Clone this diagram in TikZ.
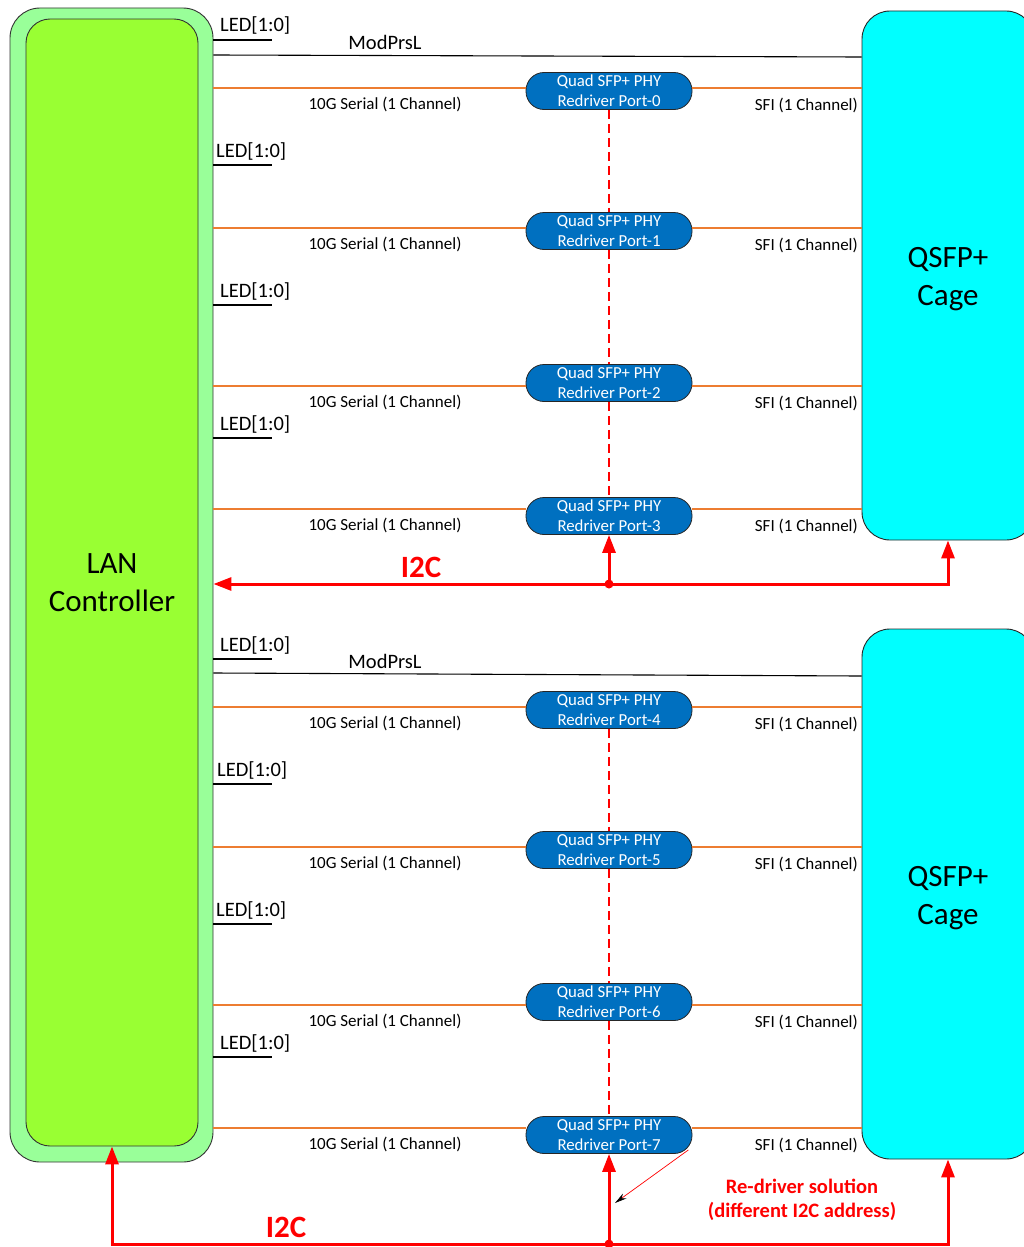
\documentclass[tikz,border=0pt]{standalone}
\usepackage{fontspec}
\setmainfont{Carlito}
\usetikzlibrary{arrows.meta,calc}
\definecolor{lanouter}{HTML}{99FF99}
\definecolor{laninner}{HTML}{99FF33}
\definecolor{cagecol}{HTML}{00FFFF}
\definecolor{rdcol}{HTML}{0070C0}
\definecolor{serialor}{HTML}{ED7D31}
\definecolor{i2cred}{HTML}{FF0000}
\begin{document}
\begin{tikzpicture}[x=1pt,y=-1pt,
  lanbox/.style={draw=black!80, line width=0.9pt},
  cagebox/.style={draw=black!85, line width=0.9pt, fill=cagecol, rounded corners=28pt,
    minimum width=172pt, inner sep=0pt},
  cagetext/.style={align=center, inner sep=0pt, font=\fontsize{31}{38}\selectfont},
  redrv/.style={draw=black!85, line width=0.8pt, fill=rdcol, rounded corners=18pt,
    minimum width=166pt, minimum height=37pt, inner sep=0pt, align=center, text=white,
    font=\fontsize{16.8}{20}\selectfont},
  serial/.style={draw=serialor, line width=2.6pt},
  sig/.style={draw=black, line width=1.1pt},
  i2c/.style={draw=i2cred, line width=3pt},
  tipA/.style={-{Triangle[length=18pt,width=13pt]}},
  dashline/.style={draw=i2cred, line width=1.8pt, dash pattern=on 9pt off 5pt},
  lbl/.style={inner sep=0pt, font=\fontsize{17}{20}\selectfont},
  biglbl/.style={inner sep=0pt, font=\fontsize{20.5}{24}\selectfont},
  i2clbl/.style={inner sep=0pt, text=i2cred, font=\fontsize{31}{36}\selectfont\bfseries}
]
\useasboundingbox (0,0) rectangle (1023,1247);

% LAN controller
\node[lanbox, fill=lanouter, rounded corners=30pt, minimum width=203pt, minimum height=1154pt, inner sep=0pt] (lanout) at (111.5,585) {};
\node[lanbox, fill=laninner, rounded corners=24pt, minimum width=172pt, minimum height=1127pt, inner sep=0pt,
  align=center, font=\fontsize{31}{38}\selectfont] (lanin) at (112,582.5) {LAN\\Controller};

% QSFP+ cages
\node[cagebox, minimum height=529pt] (cageA) at (948,275.5) {};
\node[cagetext] (cageAtext) at ([yshift=-4pt]cageA.center) {QSFP+\\Cage};
\node[cagebox, minimum height=530pt] (cageB) at (948,894) {};
\node[cagetext] (cageBtext) at ([yshift=-4pt]cageB.center) {QSFP+\\Cage};

% Redrivers
\foreach \i/\by in {0/91,1/231,2/383,3/516,4/710,5/850,6/1002,7/1135}{
  \node[redrv] (r\i) at (609,\by) {Quad SFP+ PHY\\Redriver Port-\i};
}
% serial links and labels
\foreach \i/\ly/\cg in {0/88/cageA,1/228/cageA,2/386/cageA,3/509/cageA,
                        4/707/cageB,5/847/cageB,6/1005/cageB,7/1128/cageB}{
  \draw[serial] (lanout.east |- 0,\ly) -- (r\i.west |- 0,\ly);
  \draw[serial] (r\i.east |- 0,\ly) -- (\cg.west |- 0,\ly);
  \node[lbl] at (385,\ly+16) {10G Serial (1 Channel)};
  \node[lbl, anchor=east] at (858,\ly+17) {SFI (1 Channel)};
}

% LED lines
\foreach \ly/\tx in {40/220,165/216,305/220,438/220,659/220,784/217,924/216,1057/220}{
  \draw[sig] (lanout.east |- 0,\ly) -- ++(59,0);
  \node[biglbl, anchor=base west] at (\tx,\ly-8) {LED[1:0]};
}

% ModPrsL
\draw[sig] (lanout.east |- 0,55) -- (cageA.west |- 0,57);
\node[biglbl, anchor=base] at (385,49) {ModPrsL};
\draw[sig] (lanout.east |- 0,673) -- (cageB.west |- 0,676);
\node[biglbl, anchor=base] at (385,668) {ModPrsL};

% dashed links between redrivers
\foreach \a/\b in {0/1,1/2,2/3,4/5,5/6,6/7}
  \draw[dashline] (r\a.south) -- (r\b.north);

% I2C top
\coordinate (dA) at (609,584);
\draw[i2c, tipA] (dA) -- (lanout.east |- dA);
\draw[i2c, tipA] (dA) -- (r3.south);
\draw[i2c, tipA] (dA) -| (cageA.south);
\fill[i2cred] (dA) circle (4.5);
\node[i2clbl, anchor=base] at (421,577) {I2C};

% I2C bottom
\coordinate (dB) at (609,1244);
\draw[i2c, tipA] (dB) -| (lanin.south);
\draw[i2c, tipA] (dB) -- (r7.south);
\draw[i2c, tipA] (dB) -| (cageB.south);
\fill[i2cred] (dB) circle (4.5);
\node[i2clbl, anchor=base] at (286,1237) {I2C};

% annotation
\coordinate (ann) at (615,1203);
\draw[draw=i2cred, line width=0.7pt, -{Stealth[length=12pt,width=6pt,color=black]}]
  ([xshift=-4pt,yshift=4pt]r7.south east) -- (ann);
\node[align=center, inner sep=0pt, text=i2cred, font=\fontsize{20.5}{24}\selectfont\bfseries] (anntext) at (802,1200)
  {Re-driver solution\\(different I2C address)};
\end{tikzpicture}
\end{document}
